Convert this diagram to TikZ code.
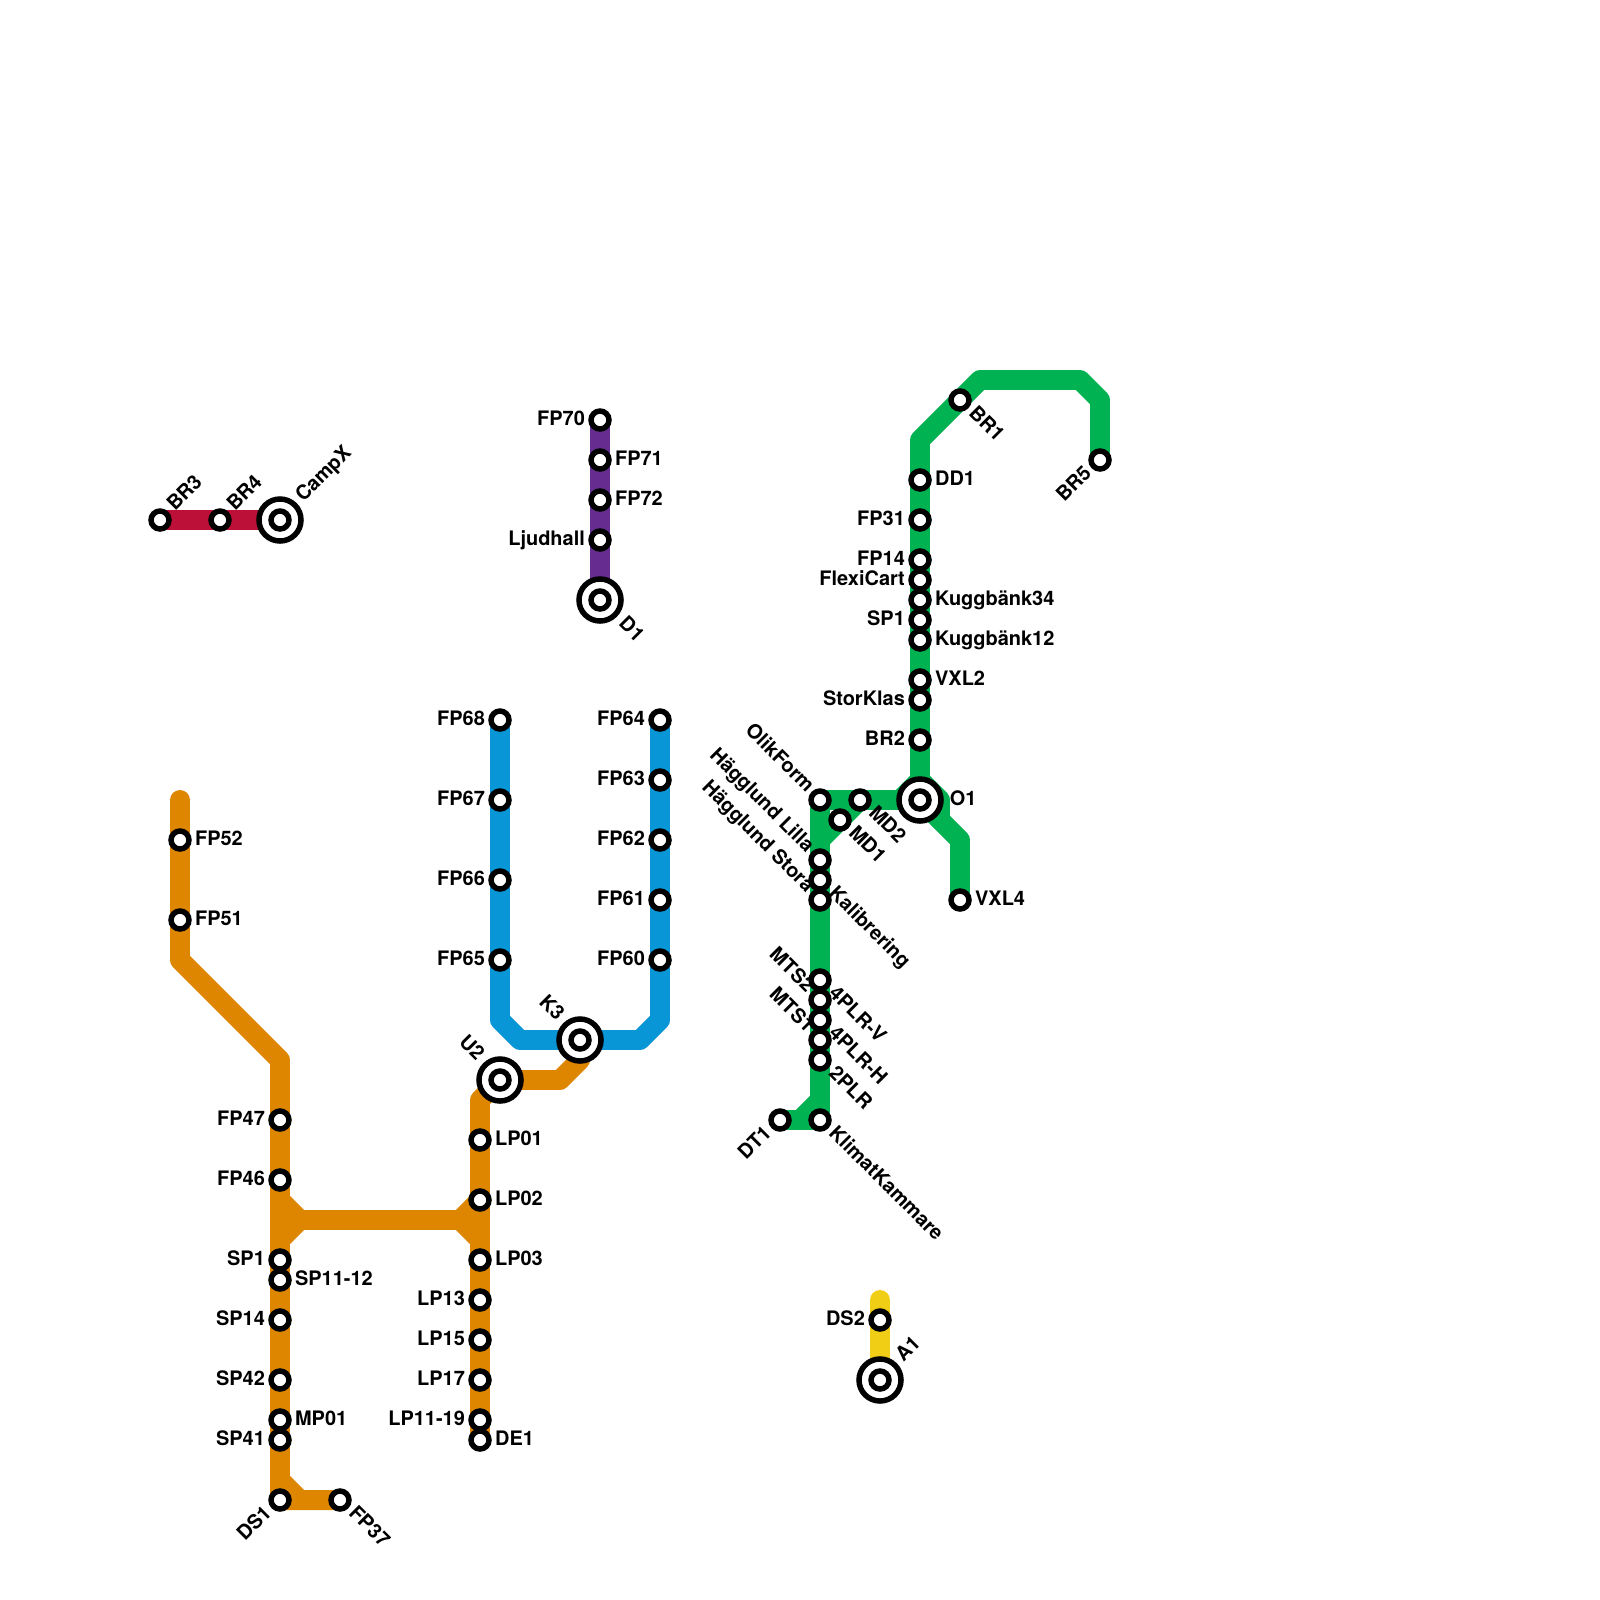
\documentclass[tikz,border=0pt]{standalone}
\usepackage{fontspec}
\setmainfont{TeX Gyre Heros}
\usepackage{xcolor}
\usepackage{tikz}
\usetikzlibrary{backgrounds}

\definecolor{linered}{HTML}{BD1038}
\definecolor{linepurple}{HTML}{662C90}
\definecolor{lineblue}{HTML}{0896D7}
\definecolor{lineorange}{HTML}{DF8600}
\definecolor{linegreen}{HTML}{00B251}
\definecolor{lineyellow}{HTML}{F0CE15}

\begin{document}
\begin{tikzpicture}[
    x=5mm, y=-5mm,
    every label/.style={font=\fontsize{14.2}{14.2}\selectfont\bfseries, inner sep=0pt, outer sep=0pt, text height=1.5ex, text depth=0pt},
    stn/.style={circle, draw=black, fill=white, line width=3.9pt, minimum size=12.8pt, inner sep=0pt},
    hub/.style={circle, draw=black, fill=white, line width=3.9pt, minimum size=29.9pt, inner sep=0pt},
    metro/.style={line width=14.2pt, line cap=round, line join=round},
    le/.style={label={[yshift=0.3pt, anchor=west, label distance=2.4pt]0:#1}},
    leh/.style={label={[yshift=0.3pt, xshift=2pt, anchor=west, label distance=2.4pt]0:#1}},
    lw/.style={label={[yshift=0.3pt, anchor=east, label distance=2.4pt]180:#1}},
    lne/.style={label={[xshift=2pt, anchor=west, rotate=45, label distance=3pt]45:#1}},
    lse/.style={label={[xshift=2.5pt, yshift=1.6pt, anchor=west, rotate=-45, label distance=3pt]-45:#1}},
    lseh/.style={label={[xshift=3.6pt, anchor=west, rotate=-45, label distance=3pt]-45:#1}},
    lsw/.style={label={[xshift=-2.2pt, yshift=1.6pt, anchor=east, rotate=45, label distance=3pt]-135:#1}},
    lnw/.style={label={[xshift=-1.2pt, yshift=-1.4pt, anchor=east, rotate=-45, label distance=3pt]135:#1}},
    lnwh/.style={label={[xshift=-2.2pt, yshift=1pt, anchor=east, rotate=-45, label distance=3pt]135:#1}}
]
\useasboundingbox (0,0) rectangle (80,80);

% red
\node[stn, lne=BR3] (br3) at (8,26) {};
\node[stn, lne=BR4] (br4) at (11,26) {};
\node[hub, lne=CampX] (campx) at (14,26) {};
\node[stn] (campxc) at (14,26) {};

% purple
\node[stn, lw=FP70] (fp70) at (30,21) {};
\node[stn, le=FP71] (fp71) at (30,23) {};
\node[stn, le=FP72] (fp72) at (30,25) {};
\node[stn, lw=Ljudhall] (ljudhall) at (30,27) {};
\node[hub, lseh=D1] (d1) at (30,30) {};
\node[stn] (d1c) at (30,30) {};

% blue
\node[stn, lw=FP68] (fp68) at (25,36) {};
\node[stn, lw=FP67] (fp67) at (25,40) {};
\node[stn, lw=FP66] (fp66) at (25,44) {};
\node[stn, lw=FP65] (fp65) at (25,48) {};
\node[hub, lnwh=K3] (k3) at (29,52) {};
\node[stn] (k3c) at (29,52) {};
\node[stn, lw=FP64] (fp64) at (33,36) {};
\node[stn, lw=FP63] (fp63) at (33,39) {};
\node[stn, lw=FP62] (fp62) at (33,42) {};
\node[stn, lw=FP61] (fp61) at (33,45) {};
\node[stn, lw=FP60] (fp60) at (33,48) {};
\coordinate (bl1) at (25,51);
\coordinate (bl2) at (26,52);
\coordinate (bl3) at (32,52);
\coordinate (bl4) at (33,51);

% orange, left
\node[stn, le=FP52] (fp52) at (9,42) {};
\node[stn, le=FP51] (fp51) at (9,46) {};
\node[stn, lw=FP47] (fp47) at (14,56) {};
\node[stn, lw=FP46] (fp46) at (14,59) {};
\node[stn, lw=SP1] (sp1a) at (14,63) {};
\node[stn, le=SP11-12] (sp1112) at (14,64) {};
\node[stn, lw=SP14] (sp14) at (14,66) {};
\node[stn, lw=SP42] (sp42) at (14,69) {};
\node[stn, le=MP01] (mp01) at (14,71) {};
\node[stn, lw=SP41] (sp41) at (14,72) {};
\node[stn, lsw=DS1] (ds1) at (14,75) {};
\node[stn, lse=FP37] (fp37) at (17,75) {};
\coordinate (or1) at (9,40);
\coordinate (or2) at (9,48);
\coordinate (or3) at (14,53);
\coordinate (or4) at (14,74);
\coordinate (or5) at (15,75);
\coordinate (or6) at (14,60);
\coordinate (or7) at (15,61);
\coordinate (or8) at (14,62);

% orange, right
\node[hub, lnwh=U2] (u2) at (25,54) {};
\node[stn] (u2c) at (25,54) {};
\node[stn, le=LP01] (lp01) at (24,57) {};
\node[stn, le=LP02] (lp02) at (24,60) {};
\node[stn, le=LP03] (lp03) at (24,63) {};
\node[stn, lw=LP13] (lp13) at (24,65) {};
\node[stn, lw=LP15] (lp15) at (24,67) {};
\node[stn, lw=LP17] (lp17) at (24,69) {};
\node[stn, lw=LP11-19] (lp1119) at (24,71) {};
\node[stn, le=DE1] (de1) at (24,72) {};
\coordinate (or9) at (23,61);
\coordinate (or10) at (24,62);
\coordinate (or11) at (24,55);
\coordinate (or12) at (28,54);
\coordinate (or13) at (29,53);

% green, upper
\node[stn, lsw=BR5] (br5) at (55,23) {};
\node[stn, lse=BR1] (br1) at (48,20) {};
\node[stn, le=DD1] (dd1) at (46,24) {};
\node[stn, lw=FP31] (fp31) at (46,26) {};
\node[stn, lw=FP14] (fp14) at (46,28) {};
\node[stn, lw=FlexiCart] (flexicart) at (46,29) {};
\node[stn, le=Kuggbänk34] (kugg34) at (46,30) {};
\node[stn, lw=SP1] (sp1b) at (46,31) {};
\node[stn, le=Kuggbänk12] (kugg12) at (46,32) {};
\node[stn, le=VXL2] (vxl2) at (46,34) {};
\node[stn, lw=StorKlas] (storklas) at (46,35) {};
\node[stn, lw=BR2] (br2) at (46,37) {};
\node[hub, leh=O1] (o1) at (46,40) {};
\node[stn] (o1c) at (46,40) {};
\node[stn, le=VXL4] (vxl4) at (48,45) {};
\coordinate (gr1) at (55,20);
\coordinate (gr2) at (54,19);
\coordinate (gr3) at (49,19);
\coordinate (gr4) at (46,22);
\coordinate (gr5) at (45,40);
\coordinate (gr6) at (46,39);
\coordinate (gr7) at (47,40);
\coordinate (gr8) at (47,41);
\coordinate (gr9) at (48,42);

% green, lower
\node[stn, lnw=OlikForm] (olikform) at (41,40) {};
\node[stn, lse=MD2] (md2) at (43,40) {};
\node[stn, lse=MD1] (md1) at (42,41) {};
\node[stn, lnw={Hägglund Lilla}] (hlilla) at (41,43) {};
\node[stn, lse=Kalibrering] (kalibrering) at (41,44) {};
\node[stn, lnw={Hägglund Stora}] (hstora) at (41,45) {};
\node[stn, lse=4PLR-V] (plr4v) at (41,49) {};
\node[stn, lnw=MTS2] (mts2) at (41,50) {};
\node[stn, lse=4PLR-H] (plr4h) at (41,51) {};
\node[stn, lnw=MTS1] (mts1) at (41,52) {};
\node[stn, lse=2PLR] (plr2) at (41,53) {};
\node[stn, lse=KlimatKammare] (klimat) at (41,56) {};
\node[stn, lsw=DT1] (dt1) at (39,56) {};
\coordinate (gr10) at (41,42);
\coordinate (gr11) at (41,55);
\coordinate (gr12) at (40,56);

% yellow
\node[stn, lw=DS2] (ds2) at (44,66) {};
\node[hub, lne=A1] (a1) at (44,69) {};
\node[stn] (a1c) at (44,69) {};
\coordinate (ye1) at (44,65);

\begin{scope}[on background layer]
\draw[metro, linered] (br3.center) -- (br4.center) -- (campx.center);
\draw[metro, linepurple] (fp70.center) -- (d1.center);
\draw[metro, lineblue] (fp68.center) -- (bl1) -- (bl2) -- (bl3) -- (bl4) -- (fp64.center);
\draw[metro, lineorange] (or1) -- (or2) -- (or3) -- (ds1.center) -- (fp37.center);
\draw[metro, lineorange] (or4) -- (or5);
\draw[metro, lineorange] (or6) -- (or7) -- (or9) -- (lp02.center);
\draw[metro, lineorange] (or8) -- (or7);
\draw[metro, lineorange] (or9) -- (or10);
\draw[metro, lineorange] (de1.center) -- (or11) -- (u2.center) -- (or12) -- (or13) -- (k3.center);
\draw[metro, linegreen] (br5.center) -- (gr1) -- (gr2) -- (gr3) -- (gr4) -- (o1.center) -- (gr9) -- (vxl4.center);
\draw[metro, linegreen] (gr5) -- (gr6) -- (gr7) -- (gr8);
\draw[metro, linegreen] (o1.center) -- (olikform.center) -- (klimat.center) -- (dt1.center);
\draw[metro, linegreen] (md2.center) -- (gr10);
\draw[metro, linegreen] (gr11) -- (gr12);
\draw[metro, lineyellow] (ye1) -- (a1.center);
\end{scope}
\end{tikzpicture}
\end{document}
